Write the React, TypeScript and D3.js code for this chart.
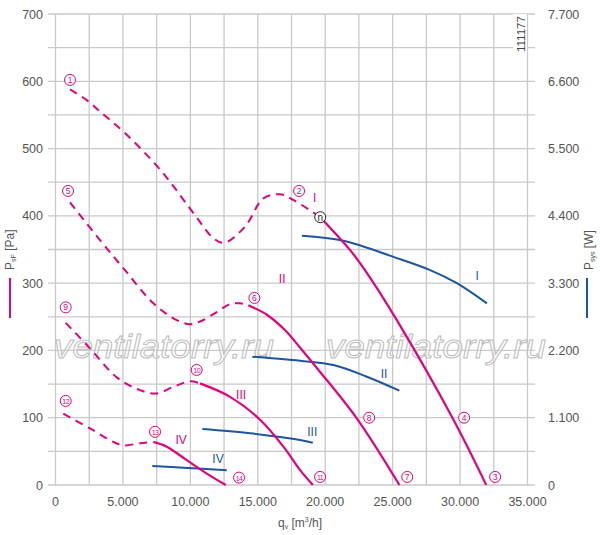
import * as d3 from "d3";
import React from "react";

// pressure curves, q [m3/h] vs psF [Pa]
const curveIDashed = [[1076, 588], [2315, 572], [3300, 555], [5153, 523], [7875, 466], [10344, 401], [11700, 367], [12500, 360], [14058, 384], [15415, 426], [16650, 432], [17690, 423], [19630, 398]];
const curveISolid = [[19630, 398], [21850, 349], [22960, 319], [25310, 245], [29510, 97], [31940, 0]];
const curveIIDashed = [[1076, 420], [3300, 364], [5163, 319], [7255, 270], [8990, 245], [9980, 239], [10720, 243], [11960, 257], [12945, 269], [13690, 270], [14300, 267]];
const curveIISolid = [[14300, 267], [15670, 253], [17025, 230], [18140, 204], [19500, 171], [22340, 99], [25500, 0]];
const curveIIIDashed = [[757, 241], [2560, 203], [4540, 160], [6270, 141], [7507, 136], [8740, 146], [9980, 154], [10720, 151]];
const curveIIISolid = [[10720, 151], [12945, 131], [15170, 97], [16900, 57], [18140, 22], [19080, 0]];
const curveIVDashed = [[580, 106], [2560, 84], [4290, 64], [5030, 59], [6270, 62], [7255, 64]];
const curveIVSolid = [[7255, 64], [8250, 57], [9730, 37], [11220, 17], [12630, 0]];

// power curves, q vs Psys [W]
const powerI = [[18270, 4075], [21350, 3993], [25060, 3730], [27780, 3514], [29760, 3300], [31990, 2970]];
const powerII = [[14600, 2097], [18140, 2030], [20610, 1961], [23090, 1770], [25500, 1542]];
const powerIII = [[10890, 915], [14430, 845], [18140, 735], [19080, 691]];
const powerIV = [[7180, 310], [9480, 283], [12700, 240]];

// circled point markers (q, Pa)
const markers = [
  ["1", 1076, 602], ["2", 18060, 437], ["3", 32600, 12], ["4", 30300, 100],
  ["5", 930, 437], ["6", 14750, 278], ["7", 26080, 12], ["8", 23260, 100],
  ["9", 757, 264], ["10", 10470, 171], ["11", 19620, 12], ["12", 757, 125],
  ["13", 7380, 79], ["14", 13610, 11],
];
const pressureLabels = [["I", 19220, 428], ["II", 16810, 307], ["III", 13760, 134], ["IV", 9310, 67]];
const powerLabels = [["I", 31260, 312], ["II", 24360, 166], ["III", 19040, 80], ["IV", 12050, 39]];
const nPoint = [19630, 398];

const xTicks = [0, 5000, 10000, 15000, 20000, 25000, 30000, 35000];
const yTicks = [0, 100, 200, 300, 400, 500, 600, 700];
const y2Ticks = [0, 1100, 2200, 3300, 4400, 5500, 6600, 7700];

const PINK = "#e5007d";
const BLUE = "#1d56a0";
const GRID = "#c9c9c9";
const TXT = "#555";
const FONT = "Arial, 'Liberation Sans', sans-serif";

const fmt = (v) => (v === 0 ? "0" : d3.format(",")(v).replace(/,/g, "."));

export default function App() {
  const x = d3.scaleLinear().domain([0, 35000]).range([55.5, 527.5]);
  const y = d3.scaleLinear().domain([0, 700]).range([485, 14]);
  const y2 = d3.scaleLinear().domain([0, 7700]).range([485, 14]);

  const lineP = d3.line().x((d) => x(d[0])).y((d) => y(d[1])).curve(d3.curveCatmullRom.alpha(0.5));
  const lineW = d3.line().x((d) => x(d[0])).y((d) => y2(d[1])).curve(d3.curveCatmullRom.alpha(0.5));

  const vGrid = d3.range(0, 35001, 2500);
  const hGrid = d3.range(0, 701, 50);

  return (
    <svg width={600} height={535} style={{ position: "absolute", left: 0, top: 0, background: "#fff" }} fontFamily={FONT}>
      <rect width={600} height={535} fill="#fff" />
      {vGrid.map((v) => (
        <line key={"v" + v} x1={x(v)} x2={x(v)} y1={y(700)} y2={y(0)} stroke={GRID} strokeWidth={1.3} />
      ))}
      {hGrid.map((v) => (
        <line key={"h" + v} x1={48} x2={535} y1={y(v)} y2={y(v)} stroke={GRID} strokeWidth={1.3} />
      ))}

      {/* watermark */}
      {[54, 326].map((wx) => (
        <text key={wx} x={wx} y={358} fontSize={34} fontStyle="italic" fill="#fff" fillOpacity={0.45}
          stroke="#bdbdbd" strokeWidth={1} textLength={220} lengthAdjust="spacingAndGlyphs">ventilatorry.ru</text>
      ))}

      {yTicks.map((v) => (
        <text key={"yl" + v} x={43} y={y(v) + 4.5} textAnchor="end" fontSize={12.5} fill={TXT}>{v}</text>
      ))}
      {y2Ticks.map((v) => (
        <text key={"yr" + v} x={548} y={y2(v) + 4.5} fontSize={12.5} fill={TXT}>{fmt(v)}</text>
      ))}
      {xTicks.map((v) => (
        <text key={"xl" + v} x={x(v)} y={506} textAnchor="middle" fontSize={12.5} fill={TXT}>{fmt(v)}</text>
      ))}

      <text x={278} y={527} fontSize={12} fill={TXT}>q<tspan fontSize={7} dy={2}>v</tspan><tspan dy={-2}> [m</tspan><tspan fontSize={7} dy={-5}>3</tspan><tspan dy={5}>/h]</tspan></text>

      <g transform="translate(14,270) rotate(-90)">
        <text fontSize={12} fill={TXT}>P<tspan fontSize={7} dy={2}>sF</tspan><tspan dy={-2}> [Pa]</tspan></text>
      </g>
      <line x1={10} x2={10} y1={278} y2={318} stroke={PINK} strokeWidth={2} />
      <g transform="translate(593,270) rotate(-90)">
        <text fontSize={12} fill={TXT}>P<tspan fontSize={7} dy={2}>sys</tspan><tspan dy={-2}> [W]</tspan></text>
      </g>
      <line x1={587} x2={587} y1={278} y2={318} stroke={BLUE} strokeWidth={2} />

      <rect x={513} y={14} width={14} height={40} fill="#fff" />
      <g transform="translate(525,52) rotate(-90)">
        <text fontSize={11.5} fill="#444">111177</text>
      </g>

      {[powerI, powerII, powerIII, powerIV].map((d, i) => (
        <path key={"w" + i} d={lineW(d)} fill="none" stroke={BLUE} strokeWidth={2} />
      ))}
      {[curveIDashed, curveIIDashed, curveIIIDashed, curveIVDashed].map((d, i) => (
        <path key={"pd" + i} d={lineP(d)} fill="none" stroke={PINK} strokeWidth={2} strokeDasharray="8,6" />
      ))}
      {[curveISolid, curveIISolid, curveIIISolid, curveIVSolid].map((d, i) => (
        <path key={"ps" + i} d={lineP(d)} fill="none" stroke={PINK} strokeWidth={2.2} />
      ))}

      {markers.map(([t, q, p]) => (
        <g key={"m" + t} transform={`translate(${x(q)},${y(p)})`}>
          <circle r={5.5} fill="#fff" stroke={PINK} strokeWidth={1} />
          <text y={3} textAnchor="middle" fontSize={t.length > 1 ? 7 : 8.5} fill={PINK} letterSpacing={t.length > 1 ? -0.5 : 0}>{t}</text>
        </g>
      ))}
      <g transform={`translate(${x(nPoint[0])},${y(nPoint[1])})`}>
        <circle r={5.5} fill="#fff" stroke="#222" strokeWidth={1} />
        <text y={3.5} textAnchor="middle" fontSize={10} fill="#222">n</text>
      </g>

      {pressureLabels.map(([t, q, p]) => (
        <text key={"pl" + t} x={x(q)} y={y(p) + 4.5} textAnchor="middle" fontSize={12} fill={PINK}>{t}</text>
      ))}
      {powerLabels.map(([t, q, p]) => (
        <text key={"wl" + t} x={x(q)} y={y(p) + 4.5} textAnchor="middle" fontSize={12} fill={BLUE}>{t}</text>
      ))}
    </svg>
  );
}
